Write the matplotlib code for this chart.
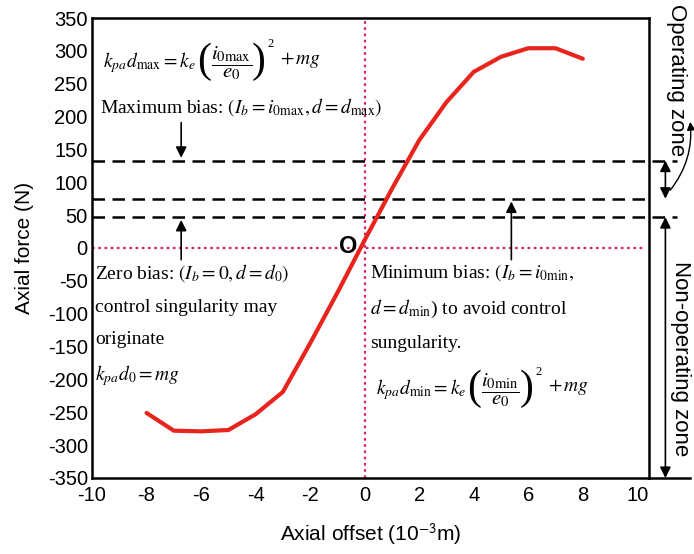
import matplotlib
matplotlib.use('Agg')
import matplotlib.pyplot as plt
from matplotlib.patches import FancyArrowPatch

plt.rcParams.update({
    'font.family': 'Liberation Sans',
    'mathtext.fontset': 'stix',
    'axes.unicode_minus': False,
})

# curve
offset = [-8, -7, -6, -5, -4, -3, -2, -1, 0, 1, 2, 3, 4, 5, 6, 7, 8]
force = [-251, -278, -279, -277, -253, -219, -145, -68, 12, 90, 164, 222, 268, 291, 304, 304, 288]

# bias levels (N)
bias_max = 133
bias_min = 75
bias_zero = 47

xticks = list(range(-10, 11, 2))
yticks = list(range(-350, 351, 50))

fig = plt.figure(figsize=(6.94, 5.54), dpi=100)
ax = fig.add_axes([0.1326, 0.1372, 0.8030, 0.8303])
ax.set_xlim(-10, 10.44)
ax.set_ylim(-350, 350)
ax.set_xticks(xticks)
ax.set_yticks(yticks)
ax.tick_params(length=0, labelsize=14.5)
ax.tick_params(axis='x', pad=6)
ax.tick_params(axis='y', pad=3)
for s in ax.spines.values():
    s.set_linewidth(1.8)

ax.set_xlabel('Axial offset (10$^{\\mathsf{-3}}$m)', fontsize=15, labelpad=12)
ax.set_ylabel('Axial force (N)', fontsize=15, labelpad=10)

# reference lines
ax.axvline(0, color='#d6246e', lw=1.6, ls=(0, (1.2, 1.6)))
ax.plot([-10, 10.2], [0, 0], color='#d6246e', lw=1.6, ls=(0, (1.2, 1.6)))
dash = (0, (5, 3))
ax.plot([-10, 11.45], [bias_max, bias_max], color='black', lw=1.8, ls=dash, clip_on=False)
ax.plot([-10, 10.44], [bias_min, bias_min], color='black', lw=1.8, ls=dash, clip_on=False)
ax.plot([-10, 11.45], [bias_zero, bias_zero], color='black', lw=1.8, ls=dash, clip_on=False)

# extended bottom line
ax.plot([10.44, 11.95], [-350, -350], color='black', lw=1.8, clip_on=False)

ax.plot(offset, force, color='#e8241c', lw=3, solid_capstyle='round', zorder=5)

ax.text(-0.6, 3, 'O', fontsize=17, fontweight='bold', ha='center', va='center', zorder=6)

serif = 'Liberation Serif'
fs = 14


def formula(x, y, lhs, num):
    # lhs, big brackets and fraction chained one after another
    t = ax.text(x, y, lhs, fontsize=fs, family=serif, va='center')
    p1 = ax.annotate('(', xy=(1, 0.5), xycoords=t, xytext=(1, 1), textcoords='offset points',
                     fontsize=30, family=serif, va='center')
    fr = ax.annotate(r'$\dfrac{%s}{e_0}$' % num, xy=(1, 0.5), xycoords=p1, xytext=(0, -1),
                     textcoords='offset points', fontsize=15, family=serif, va='center')
    p2 = ax.annotate(')', xy=(1, 0.5), xycoords=fr, xytext=(0, 1), textcoords='offset points',
                     fontsize=30, family=serif, va='center')
    ax.annotate('2', xy=(1, 1), xycoords=p2, xytext=(1, -6), textcoords='offset points',
                fontsize=9, family=serif, va='bottom')
    ax.annotate(r'$+\,mg$', xy=(1, 0.5), xycoords=p2, xytext=(10, 1), textcoords='offset points',
                fontsize=fs, family=serif, va='center')


formula(-9.6, 282, r'$k_{pa}d_{\mathrm{max}}=k_e$', r'i_{0\mathrm{max}}')
ax.text(-9.7, 214, r'Maximum bias: $(I_b=i_{0\mathrm{max}},d=d_{\mathrm{max}})$',
        fontsize=fs, family=serif, va='center')
ax.text(-9.9, -38, r'Zero bias: $(I_b=0,d=d_0)$', fontsize=fs, family=serif, va='center')
ax.text(-9.9, -90, 'control singularity may', fontsize=fs, family=serif, va='center')
ax.text(-9.9, -140, 'originate', fontsize=fs, family=serif, va='center')
ax.text(-9.9, -194, r'$k_{pa}d_0=mg$', fontsize=fs, family=serif, va='center')

ax.text(0.2, -38, r'Minimum bias: $(I_b=i_{0\mathrm{min}},$', fontsize=fs, family=serif, va='center')
ax.text(0.2, -92, r'$d=d_{\mathrm{min}}$) to avoid control', fontsize=fs, family=serif, va='center')
ax.text(0.2, -145, 'sungularity.', fontsize=fs, family=serif, va='center')
formula(0.4, -216, r'$k_{pa}d_{\mathrm{min}}=k_e$', r'i_{0\mathrm{min}}')

# bias arrows
arr = dict(arrowstyle='-|>', color='black', lw=1.2, mutation_scale=16)
ax.annotate('', xy=(-6.73, bias_max), xytext=(-6.73, 195), arrowprops=arr)
ax.annotate('', xy=(-6.73, bias_zero), xytext=(-6.73, -22), arrowprops=arr)
ax.annotate('', xy=(5.38, bias_min), xytext=(5.38, -22), arrowprops=arr)

# zone arrows on the right
zarr = dict(arrowstyle='<|-|>', color='black', lw=1.2, mutation_scale=16, shrinkA=0, shrinkB=0)
ax.annotate('', xy=(11.03, bias_max), xytext=(11.03, bias_min), arrowprops=zarr,
            annotation_clip=False)
ax.annotate('', xy=(11.03, bias_zero), xytext=(11.03, -350), arrowprops=zarr,
            annotation_clip=False)

ax.text(11.42, 256, 'Operating zone', fontsize=16, rotation=-90, ha='center', va='center',
        clip_on=False)
ax.text(11.6, -168, 'Non-operating zone', fontsize=16, rotation=-90, ha='center', va='center',
        clip_on=False)
curve = FancyArrowPatch((11.21, 88), (11.94, 192), connectionstyle='arc3,rad=0.2',
                        arrowstyle='-|>', mutation_scale=12, color='black', lw=1,
                        shrinkA=0, shrinkB=0, clip_on=False)
ax.add_patch(curve)

fig.savefig('out.png', dpi=100)
